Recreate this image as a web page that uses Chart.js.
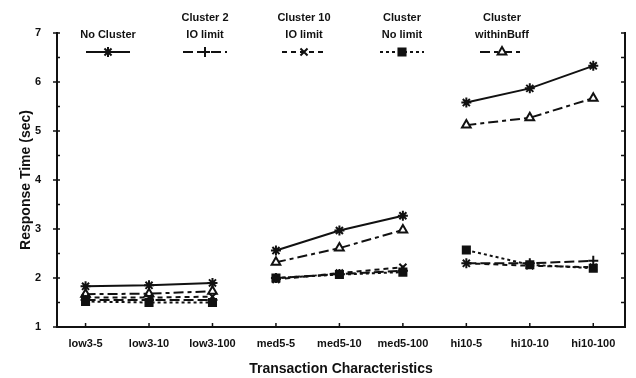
<!DOCTYPE html>
<html>
<head>
<meta charset="utf-8">
<script src="https://cdn.jsdelivr.net/npm/chart.js@4.4.1/dist/chart.umd.min.js"></script>
<style>
html,body{margin:0;padding:0;background:#fff;}
canvas{display:block;}
</style>
</head>
<body>
<canvas id="c" width="636" height="378"></canvas>
<script>
const categories = ['low3-5','low3-10','low3-100','med5-5','med5-10','med5-100','hi10-5','hi10-10','hi10-100'];
const groups = [0,0,0,1,1,1,2,2,2];
const yTicks = [1,2,3,4,5,6,7];
const noCluster      = [1.83,1.85,1.90,2.56,2.97,3.27,5.58,5.87,6.33];
const cluster2       = [1.55,1.55,1.55,2.00,2.08,2.15,2.30,2.30,2.35];
const cluster10      = [1.60,1.60,1.62,1.97,2.10,2.22,2.30,2.25,2.22];
const clusterNoLimit = [1.52,1.50,1.50,2.00,2.07,2.12,2.57,2.27,2.20];
const withinBuff     = [1.67,1.68,1.73,2.32,2.61,2.98,5.12,5.27,5.67];
const legendLabels = [['No Cluster'],['Cluster 2','IO limit'],['Cluster 10','IO limit'],['Cluster','No limit'],['Cluster','withinBuff']];
const legendX = [108,205,304,402,502];

const INK = '#111';
const FONT = "'Liberation Sans', Arial, sans-serif";
const toPts = arr => arr.map((v,i)=>({x:i,y:v}));

function ds(label, data, dash, style, radius, fill){
  return {label, data: toPts(data), borderColor: INK, borderWidth: 2, borderDash: dash,
    pointStyle: style, pointRadius: radius, pointBorderColor: INK, pointBackgroundColor: fill,
    pointBorderWidth: 2, fill:false, tension:0,
    segment: { borderColor: c => groups[c.p0DataIndex] !== groups[c.p1DataIndex] ? 'rgba(0,0,0,0)' : undefined }};
}

const datasets = [
  ds('No Cluster', noCluster, [], 'star', 5, INK),
  ds('Cluster 2 IO limit', cluster2, [10,4], 'cross', 5, INK),
  ds('Cluster 10 IO limit', cluster10, [5,4], 'crossRot', 5, INK),
  ds('Cluster No limit', clusterNoLimit, [3,3], 'rect', 5, INK),
  ds('Cluster withinBuff', withinBuff, [10,4,4,4], 'triangle', 5, '#fff'),
];

const decor = {
  id:'decor',
  afterDraw(chart){
    const ctx = chart.ctx;
    const xs = chart.scales.x, ys = chart.scales.y;
    const L = chart.chartArea.left, R = chart.chartArea.right, B = chart.chartArea.bottom;
    ctx.save();
    ctx.strokeStyle = INK; ctx.lineWidth = 1.5; ctx.setLineDash([]);
    for (let v = 1; v <= 7.001; v += 0.5) {
      const p = ys.getPixelForValue(v);
      const big = Math.abs(v - Math.round(v)) < 0.01;
      ctx.beginPath(); ctx.moveTo(L - (big?4:0), p); ctx.lineTo(L + 3, p); ctx.stroke();
      ctx.beginPath(); ctx.moveTo(R - 4, p); ctx.lineTo(R, p); ctx.stroke();
    }
    categories.forEach((c,i)=>{
      const p = xs.getPixelForValue(i);
      ctx.beginPath(); ctx.moveTo(p, B); ctx.lineTo(p, B-4); ctx.stroke();
    });
    ctx.fillStyle = INK;
    ctx.font = "bold 11px " + FONT;
    ctx.textAlign = 'center'; ctx.textBaseline = 'alphabetic';
    chart.data.datasets.forEach((d,i)=>{
      const cx = legendX[i];
      const lines = legendLabels[i];
      lines.forEach((t,j)=>{
        ctx.fillText(t, cx, 38 - (lines.length-1-j)*17);
      });
      ctx.save();
      ctx.lineWidth = 2; ctx.strokeStyle = INK; ctx.setLineDash(d.borderDash);
      ctx.beginPath(); ctx.moveTo(cx-22, 52); ctx.lineTo(cx+22, 52); ctx.stroke();
      ctx.setLineDash([]);
      ctx.fillStyle = d.pointBackgroundColor;
      Chart.helpers.drawPoint(ctx, {pointStyle: d.pointStyle, radius: d.pointRadius, borderWidth: 2, rotation:0}, cx, 52);
      ctx.restore();
    });
    ctx.restore();
  }
};

new Chart(document.getElementById('c'), {
  type: 'line',
  data: { datasets },
  options: {
    responsive: false,
    animation: false,
    devicePixelRatio: 1,
    layout: { padding: { top: 33, left: 0, right: 0, bottom: 0 } },
    plugins: { legend: { display: false }, tooltip: { enabled: false } },
    scales: {
      x: {
        type: 'linear', min: -0.45, max: 8.5,
        afterBuildTicks(s){ s.ticks = categories.map((c,i)=>({value:i})); },
        afterFit(s){ s.height = 51; },
        grid: { display: false },
        border: { display: true, color: INK, width: 2 },
        ticks: { padding: 2, color: INK, font: { family: FONT, size: 11, weight: 'bold' },
          callback: (v) => categories[v] !== undefined ? categories[v] : '' , maxRotation: 0, autoSkip: false },
        title: { display: true, text: 'Transaction Characteristics', color: INK,
          font: { family: FONT, size: 14, weight: 'bold' }, padding: { top: 2, bottom: 0 } }
      },
      y: {
        type: 'linear', position: 'left', min: 1, max: 7,
        afterBuildTicks(s){ s.ticks = yTicks.map(v=>({value:v})); },
        afterFit(s){ s.width = 57; },
        grid: { display: false },
        border: { display: true, color: INK, width: 2 },
        ticks: { padding: 8, color: INK, font: { family: FONT, size: 11, weight: 'bold' } },
        title: { display: true, text: 'Response Time (sec)', color: INK,
          font: { family: FONT, size: 14, weight: 'bold' }, padding: { top: 18, bottom: 0 } }
      },
      y2: {
        type: 'linear', position: 'right', min: 1, max: 7,
        afterFit(s){ s.width = 11; },
        grid: { display: false },
        border: { display: true, color: INK, width: 2 },
        ticks: { display: false }
      }
    }
  },
  plugins: [decor]
});
</script>
</body>
</html>
